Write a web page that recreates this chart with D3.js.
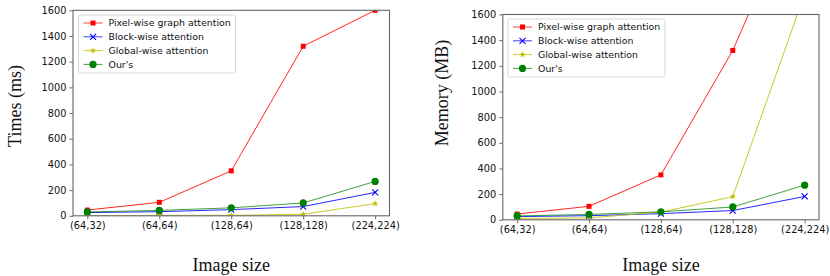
<!DOCTYPE html>
<html>
<head>
<meta charset="utf-8">
<script src="https://cdn.jsdelivr.net/npm/d3@7"></script>
<style>
body { margin: 0; background: #fff; }
svg text { font-family: "DejaVu Sans", sans-serif; }
</style>
</head>
<body>
<svg id="chart" width="830" height="276"></svg>
<script>
var categories = ["(64,32)", "(64,64)", "(128,64)", "(128,128)", "(224,224)"];
var seriesNames = ["Pixel-wise graph attention", "Block-wise attention", "Global-wise attention", "Our's"];
var yTicks = [0, 200, 400, 600, 800, 1000, 1200, 1400, 1600];

// times (ms)
var timePixel = [45, 105, 350, 1320, 1600];
var timeBlock = [25, 32, 48, 72, 182];
var timeGlobal = [2, 3, 4, 12, 95];
var timeOurs = [30, 42, 62, 100, 268];

// memory (MB)
var memPixel = [45, 105, 350, 1320, 2600];
var memBlock = [25, 32, 48, 72, 182];
var memGlobal = [10, 15, 60, 180, 1760];
var memOurs = [30, 42, 62, 100, 270];

var colors = ["#ff0000", "#0000ff", "#bfbf00", "#008000"];
var markers = ["square", "x", "star", "circle"];

var svg = d3.select("#chart");

function drawMarker(sel, type, color) {
    if (type == "square") {
        sel.append("rect").attr("x", -2.5).attr("y", -2.5).attr("width", 5).attr("height", 5)
            .attr("fill", color);
    } else if (type == "x") {
        sel.append("path").attr("d", "M-3,-3L3,3M-3,3L3,-3")
            .attr("stroke", color).attr("stroke-width", 1.1).attr("fill", "none");
    } else if (type == "star") {
        sel.append("path").attr("d", d3.symbol().type(d3.symbolStar).size(14)())
            .attr("fill", color);
    } else {
        sel.append("circle").attr("r", 3.6).attr("fill", color);
    }
}

function panel(opts) {
    var x = d3.scalePoint().domain(categories).range([opts.x0 + 0.2 * opts.step, opts.x1 - 0.2 * opts.step]);
    var y = d3.scaleLinear().domain([0, 1600]).range([opts.y1, opts.y0]);
    var g = svg.append("g");

    var clipId = "clip" + opts.id;
    svg.append("clipPath").attr("id", clipId).append("rect")
        .attr("x", opts.x0).attr("y", opts.y0)
        .attr("width", opts.x1 - opts.x0).attr("height", opts.y1 - opts.y0);

    // axes
    var yAxis = g.append("g").attr("transform", "translate(" + opts.x0 + ",0)")
        .call(d3.axisLeft(y).tickValues(yTicks).tickFormat(d3.format("d")).tickSize(3.5).tickPadding(3));
    var xAxis = g.append("g").attr("transform", "translate(0," + opts.y1 + ")")
        .call(d3.axisBottom(x).tickSize(3.5).tickPadding(3));
    [yAxis, xAxis].forEach(function (a) {
        a.select(".domain").remove();
        a.selectAll("line").attr("stroke", "#444").attr("stroke-width", 0.8);
        a.selectAll("text").attr("fill", "#111").style("font-size", "9.8px");
    });

    var plot = g.append("g").attr("clip-path", "url(#" + clipId + ")");
    var line = d3.line().x(function (d, i) { return x(categories[i]); }).y(function (d) { return y(d); });

    opts.series.forEach(function (vals, k) {
        plot.append("path").datum(vals).attr("d", line)
            .attr("fill", "none").attr("stroke", colors[k]).attr("stroke-width", 1)
            .attr("stroke-opacity", k == 3 ? 0.75 : 0.85);
    });
    opts.series.forEach(function (vals, k) {
        vals.forEach(function (v, i) {
            var m = plot.append("g").attr("transform", "translate(" + x(categories[i]) + "," + y(v) + ")");
            drawMarker(m, markers[k], colors[k]);
        });
    });

    // frame
    g.append("rect").attr("x", opts.x0).attr("y", opts.y0)
        .attr("width", opts.x1 - opts.x0).attr("height", opts.y1 - opts.y0)
        .attr("fill", "none").attr("stroke", "#666").attr("stroke-width", 1.1);

    // legend
    var lg = g.append("g").attr("transform", "translate(" + opts.lx + "," + opts.ly + ")");
    lg.append("rect").attr("x", 0).attr("y", 0).attr("width", 157).attr("height", 58).attr("rx", 2)
        .attr("fill", "#fff").attr("fill-opacity", 0.85).attr("stroke", "#ccc").attr("stroke-width", 0.8);
    seriesNames.forEach(function (name, k) {
        var ry = 8 + k * 13.8;
        lg.append("line").attr("x1", 5).attr("x2", 24).attr("y1", ry).attr("y2", ry)
            .attr("stroke", colors[k]).attr("stroke-width", 1).attr("stroke-opacity", 0.75);
        drawMarker(lg.append("g").attr("transform", "translate(14.5," + ry + ")"), markers[k], colors[k]);
        lg.append("text").attr("x", 30).attr("y", ry).attr("dy", "0.35em")
            .style("font-size", "9.4px").attr("fill", "#111").text(name);
    });

    // axis titles
    svg.append("text").attr("transform", "translate(" + opts.tx + "," + opts.ty + ")rotate(-90)")
        .attr("text-anchor", "middle").attr("dy", "0.35em")
        .style("font-family", "'Liberation Serif', 'DejaVu Serif', serif").style("font-size", "18px")
        .attr("fill", "#111").text(opts.ytitle);
    svg.append("text").attr("x", (opts.x0 + opts.x1) / 2).attr("y", 265).attr("dy", "0.35em")
        .attr("text-anchor", "middle")
        .style("font-family", "'Liberation Serif', 'DejaVu Serif', serif").style("font-size", "18px")
        .attr("fill", "#111").text("Image size");
}

panel({
    id: 1, x0: 73, x1: 389.5, y0: 10.3, y1: 215.8, step: 71.75,
    series: [timePixel, timeBlock, timeGlobal, timeOurs],
    lx: 78.5, ly: 15, tx: 15, ty: 106, ytitle: "Times (ms)"
});

panel({
    id: 2, x0: 502.8, x1: 819, y0: 14.5, y1: 219.8, step: 71.75,
    series: [memPixel, memBlock, memGlobal, memOurs],
    lx: 508, ly: 19, tx: 442, ty: 93, ytitle: "Memory (MB)"
});
</script>
</body>
</html>
